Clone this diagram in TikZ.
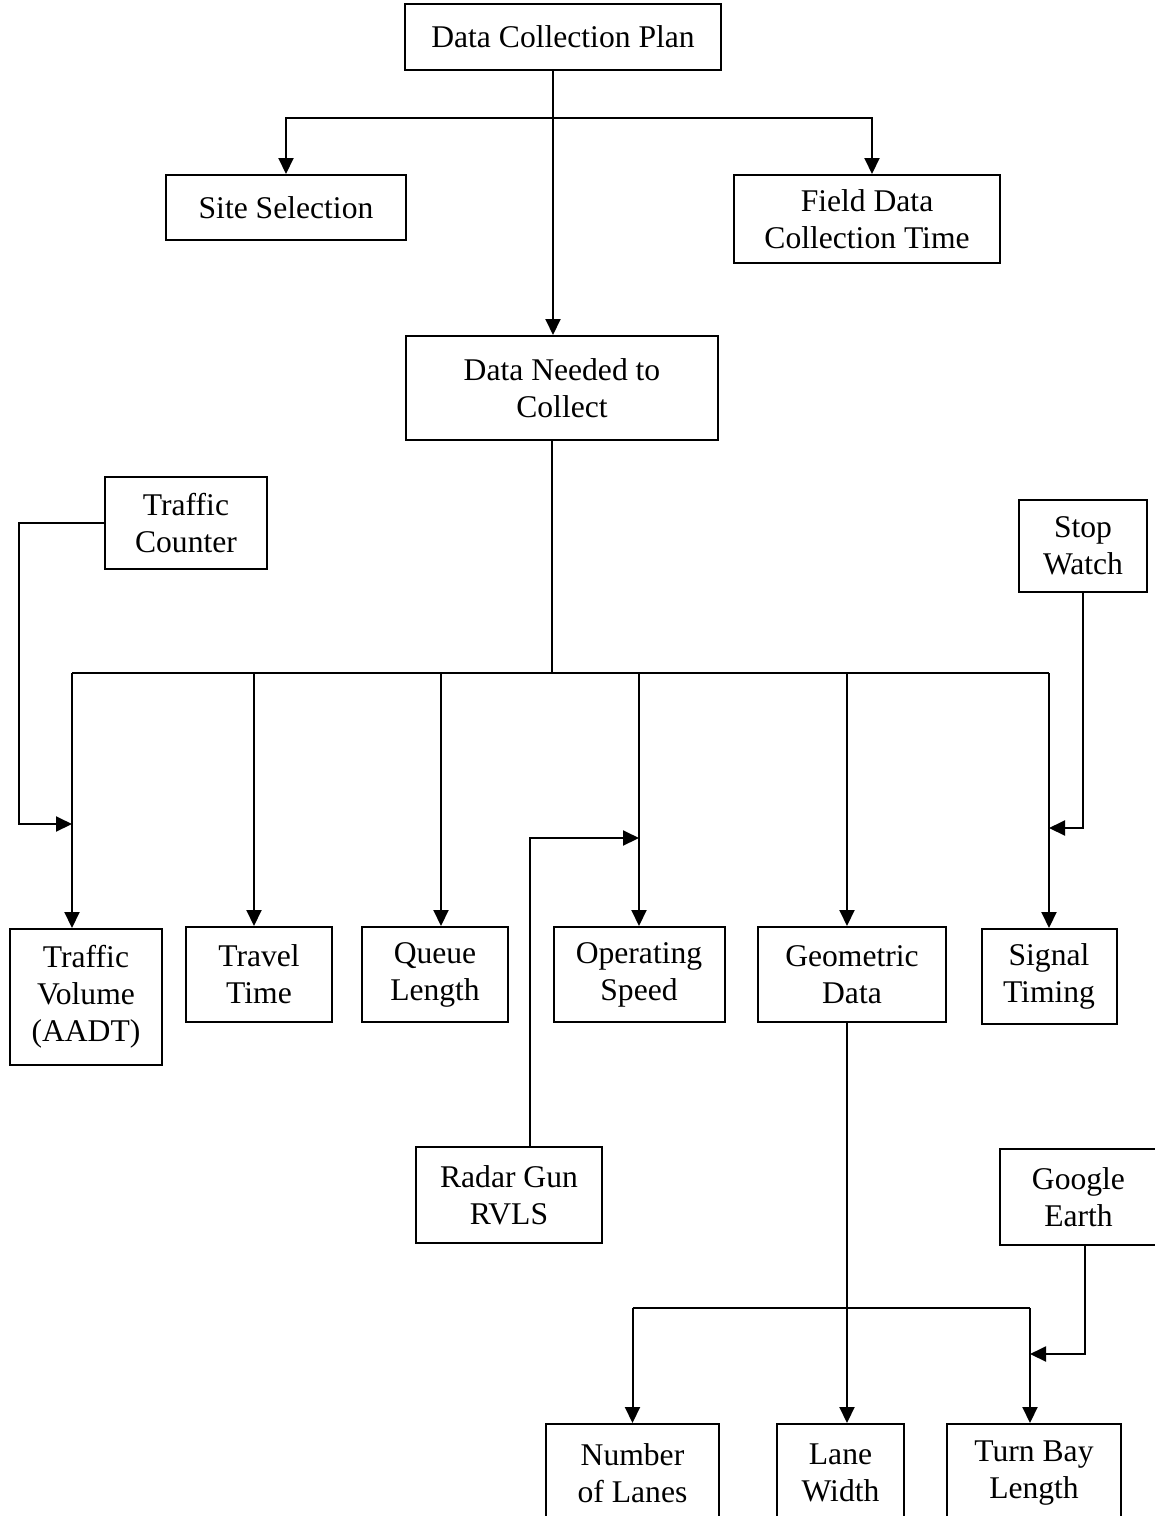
\documentclass[tikz,border=0pt]{standalone}
\usepackage{fontspec}
\setmainfont{Liberation Serif}
\usetikzlibrary{arrows.meta, positioning, calc}

\begin{document}
\begin{tikzpicture}[
        x=0.5pt, y=-0.5pt,
        box/.style={rectangle, draw=black, line width=1pt, fill=white, inner sep=0pt, align=center, font=\fontsize{15.8}{18.5}\selectfont},
        arrow/.style={-{Triangle[length=8pt, width=7.5pt]}, line width=1pt},
        link/.style={line width=1pt}
    ]
        \useasboundingbox (0,0) rectangle (1155,1516);

        % Top level
        \node[box, minimum width=158pt, minimum height=33pt] (plan) at (563,37) {Data Collection Plan};
        \node[box, minimum width=120pt, minimum height=32.5pt] (site) at (286,207.5) {Site Selection};
        \node[box, minimum width=133pt, minimum height=44pt] (field) at (867,219) {Field Data\\Collection Time};
        \node[box, minimum width=156pt, minimum height=52pt] (needed) at (562,388) {Data Needed to\\Collect};

        % Tools
        \node[box, minimum width=81pt, minimum height=46pt] (counter) at (186,523) {Traffic\\Counter};
        \node[box, minimum width=64pt, minimum height=46pt] (watch) at (1083,546) {Stop\\Watch};
        \node[box, minimum width=93pt, minimum height=48pt] (radar) at (509,1195) {Radar Gun\\RVLS};
        \node[box, minimum width=78.5pt, minimum height=48pt] (google) at (1078.5,1197) {Google\\Earth};

        % Data items
        \node[box, minimum width=76pt, minimum height=68pt] (volume) at (86,997) {Traffic\\Volume\\(AADT)};
        \node[box, minimum width=73pt, minimum height=47.5pt] (travel) at (259,974.5) {Travel\\Time};
        \node[box, minimum width=73pt, minimum height=47.5pt] (queue) at (435,974.5) {Queue\\Length};
        \node[box, minimum width=85.5pt, minimum height=47.5pt] (speed) at (639,974.5) {Operating\\Speed};
        \node[box, minimum width=94pt, minimum height=47.5pt] (geometric) at (852,974.5) {Geometric\\Data};
        \node[box, minimum width=67.5pt, minimum height=47.5pt] (signal) at (1049,976.5) {Signal\\Timing};

        % Geometric items
        \node[box, minimum width=86.5pt, minimum height=49pt] (number) at (632.5,1473) {Number\\of Lanes};
        \node[box, minimum width=63.5pt, minimum height=49pt] (lane) at (840.5,1473) {Lane\\Width};
        \node[box, minimum width=87pt, minimum height=49pt] (turn) at (1034,1473) {Turn Bay\\Length};

        % Junctions
        \coordinate (j1) at (553,118);
        \coordinate (j2) at (552,673);
        \coordinate (j3) at (847,1308);
        \coordinate (cv) at (72,824);
        \coordinate (cs) at (1049,828);
        \coordinate (cr) at (639,838);
        \coordinate (cg) at (1030,1354);

        % Arrows
        \draw[arrow] (plan.south -| j1) -- (needed.north -| j1);
        \draw[arrow] (j1) -| (site.north);
        \draw[arrow] (j1) -| ([xshift=2.5pt]field.north);
        \draw[link] (needed.south -| j2) -- (j2);
        \draw[link] ([xshift=-7pt]volume.north |- j2) -- (signal.north |- j2);
        \foreach \n/\dx in {volume/-7pt, travel/-2.5pt, queue/3pt, speed/0pt, geometric/-2.5pt, signal/0pt}
            \draw[arrow] ([xshift=\dx]\n.north |- j2) -- ([xshift=\dx]\n.north);
        \draw[arrow] (counter.west) -- ++(-85,0) |- (cv);
        \draw[arrow] (watch.south) |- (cs);
        \draw[arrow] ([xshift=10.5pt]radar.north) |- (cr);
        \draw[arrow] ([xshift=-2.5pt]geometric.south) -- ([xshift=-2.5pt]geometric.south |- lane.north);
        \draw[link] (number.north |- j3) -- (cg |- j3);
        \draw[arrow] (number.north |- j3) -- (number.north);
        \draw[arrow] (cg |- j3) -- (cg |- turn.north);
        \draw[arrow] ([xshift=3pt]google.south) |- (cg);
    \end{tikzpicture}
\end{document}
